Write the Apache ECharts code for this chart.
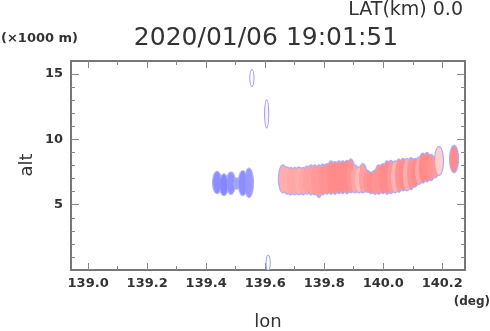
<!DOCTYPE html>
<html>
<head>
<meta charset="utf-8">
<script src="https://cdn.jsdelivr.net/npm/echarts@6/dist/echarts.min.js"></script>
<style>
html,body{margin:0;padding:0;background:#fff;}
#main{width:490px;height:331px;}
</style>
</head>
<body>
<div id="main"></div>
<script>
	//红色回波带: 经度, 下端高度, 上端高度, 强度
	let redLon=[139.660,139.674,139.687,139.700,139.714,139.728,139.741,139.755,139.768,139.782,
		139.795,139.809,139.823,139.836,139.850,139.863,139.877,139.890,139.904,139.918,
		139.931,139.945,139.958,139.972,139.985,139.999,140.013,140.026,140.040,140.053,
		140.067,140.080,140.094,140.107,140.121,140.134,140.148,140.162,140.175,140.189,140.240];
	let redBot=[5.95,5.85,5.8,5.8,5.8,5.8,5.85,5.8,5.8,5.6,
		5.8,5.85,5.85,5.85,5.9,5.9,5.9,5.95,5.95,5.95,
		5.95,6.0,5.9,5.85,5.85,5.9,5.85,5.9,5.95,6.0,
		6.1,6.1,6.2,6.4,6.6,6.7,6.8,6.9,7.1,7.3,7.5];
	let redTop=[8.0,7.85,7.8,7.8,7.85,7.8,7.9,8.0,8.0,8.0,
		8.05,8.1,8.3,8.25,8.3,8.3,8.35,8.45,8.0,7.85,
		8.1,7.6,7.45,7.6,8.0,8.1,8.3,8.35,8.3,8.45,
		8.5,8.5,8.55,8.5,8.6,8.9,8.95,8.8,8.6,9.4,9.5];
	let redVal=[34,34,35,35,34,35,36,36,37,37,
		38,38,39,39,39,39,39,38,35,32,
		36,38,39,38,38,39,39,37,33,38,
		39,34,38,39,35,39,39,38,37,29,39];

	//蓝色回波
	let blueLon=[139.437,139.460,139.484,139.504,139.524,139.545];
	let blueBot=[5.9,5.75,5.85,6.25,5.75,5.6];
	let blueTop=[7.5,7.3,7.45,7.0,7.55,7.75];
	let blueVal=[3,2,4,7,3,5];

	//弱回波
	let weakLon=[139.555,139.605,139.610];
	let weakBot=[14.1,10.9,0.0];
	let weakTop=[15.3,13.0,1.1];
	let weakVal=[20,23,20];

	//坐标轴刻度
	let xMajor=[139.0,139.2,139.4,139.6,139.8,140.0,140.2];
	let xMinor=[139.1,139.3,139.5,139.7,139.9,140.1];
	let yMajor=[5,10,15];
	let yMinor=[1,2,3,4,6,7,8,9,11,12,13,14];

	let echoData=[];
	blueLon.forEach(function(v,i){
		echoData.push([v,blueBot[i],blueTop[i],blueVal[i]]);
	})
	redLon.forEach(function(v,i){
		echoData.push([v,redBot[i],redTop[i],redVal[i]]);
	})
	let weakData=[];
	weakLon.forEach(function(v,i){
		weakData.push([v,weakBot[i],weakTop[i],weakVal[i]]);
	})

	function makeEllipse(api,halfW,pad,color){
		let lon=api.value(0);
		let p0=api.coord([lon,api.value(1)]);
		let p1=api.coord([lon,api.value(2)]);
		let cx=p0[0];
		let cy=(p0[1]+p1[1])/2;
		let ry=Math.abs(p0[1]-p1[1])/2+pad;
		let rx=halfW+pad;
		let pts=[];
		for(let k=0;k<32;k++){
			let a=Math.PI*2*k/32;
			pts.push([cx+rx*Math.cos(a),cy+ry*Math.sin(a)]);
		}
		return {type:'polygon',shape:{points:pts},style:{fill:color}};
	}

	let axisColor='#777';
	function xAx(pos,ticks,len,showLine,labels){
		return {
			type:'value',position:pos,min:138.942,max:140.277,
			axisLine:{show:showLine,onZero:false,lineStyle:{color:axisColor,width:2}},
			axisTick:{show:true,inside:true,length:len,customValues:ticks,lineStyle:{color:'#888'}},
			axisLabel:{show:labels,customValues:ticks,margin:7,color:'#333',fontFamily:'DejaVu Sans',fontWeight:'bold',fontSize:13,
				formatter:function(v){return v.toFixed(1);}},
			splitLine:{show:false}
		};
	}
	function yAx(pos,ticks,len,showLine,labels){
		return {
			type:'value',position:pos,min:0,max:16,
			axisLine:{show:showLine,onZero:false,lineStyle:{color:axisColor,width:2}},
			axisTick:{show:true,inside:true,length:len,customValues:ticks,lineStyle:{color:'#888'}},
			axisLabel:{show:labels,customValues:ticks,margin:8,color:'#333',fontFamily:'DejaVu Sans',fontWeight:'bold',fontSize:13},
			splitLine:{show:false}
		};
	}

	var myChart=echarts.init(document.getElementById('main'));
	myChart.setOption({
		animation:false,
		backgroundColor:'#fff',
		grid:{left:71,right:25,top:61,bottom:61},
		xAxis:[
			xAx('bottom',xMajor,7,true,true),
			xAx('bottom',xMinor,4,false,false),
			xAx('top',xMajor,7,true,false),
			xAx('top',xMinor,4,false,false)
		],
		yAxis:[
			yAx('left',yMajor,8,true,true),
			yAx('left',yMinor,4,false,false),
			yAx('right',yMajor,8,true,false),
			yAx('right',yMinor,4,false,false)
		],
		visualMap:{
			show:false,type:'continuous',dimension:3,min:0,max:40,seriesIndex:[1,3],
			inRange:{color:['#7c7cff','#b4b4ff','#ffffff','#ffc8c8','#ff8484']}
		},
		series:[
			{
				//外轮廓
				type:'custom',clip:true,data:echoData,
				encode:{x:0,y:[1,2]},
				renderItem:function(params,api){
					return makeEllipse(api,3.8,1.3,'#aeaefc');
				}
			},
			{
				type:'custom',clip:true,data:echoData,
				encode:{x:0,y:[1,2]},
				renderItem:function(params,api){
					return makeEllipse(api,3.8,0,api.visual('color'));
				}
			},
			{
				type:'custom',clip:true,data:weakData,
				encode:{x:0,y:[1,2]},
				renderItem:function(params,api){
					return makeEllipse(api,1.6,1,'#9c9cfa');
				}
			},
			{
				type:'custom',clip:true,data:weakData,
				encode:{x:0,y:[1,2]},
				renderItem:function(params,api){
					return makeEllipse(api,1.6,0,api.visual('color'));
				}
			}
		],
		graphic:[
			{type:'text',x:463,y:10,style:{text:'LAT(km) 0.0',fill:'#333',fontFamily:'DejaVu Sans',fontSize:19,align:'right',verticalAlign:'middle'}},
			{type:'text',x:266,y:38,style:{text:'2020/01/06 19:01:51',fill:'#333',fontFamily:'DejaVu Sans',fontSize:25,align:'center',verticalAlign:'middle'}},
			{type:'text',x:1,y:39,style:{text:'(×1000 m)',fill:'#333',fontFamily:'DejaVu Sans',fontWeight:'bold',fontSize:13,align:'left',verticalAlign:'middle'}},
			{type:'text',x:490,y:302,style:{text:'(deg)',fill:'#333',fontFamily:'DejaVu Sans',fontWeight:'bold',fontSize:12,align:'right',verticalAlign:'middle'}},
			{type:'text',x:268,y:322,style:{text:'lon',fill:'#333',fontFamily:'DejaVu Sans',fontSize:18,align:'center',verticalAlign:'middle'}},
			{type:'text',x:27,y:165,rotation:Math.PI/2,style:{text:'alt',fill:'#333',fontFamily:'DejaVu Sans',fontSize:18,align:'center',verticalAlign:'middle'}}
		]
	});
</script>
</body>
</html>
